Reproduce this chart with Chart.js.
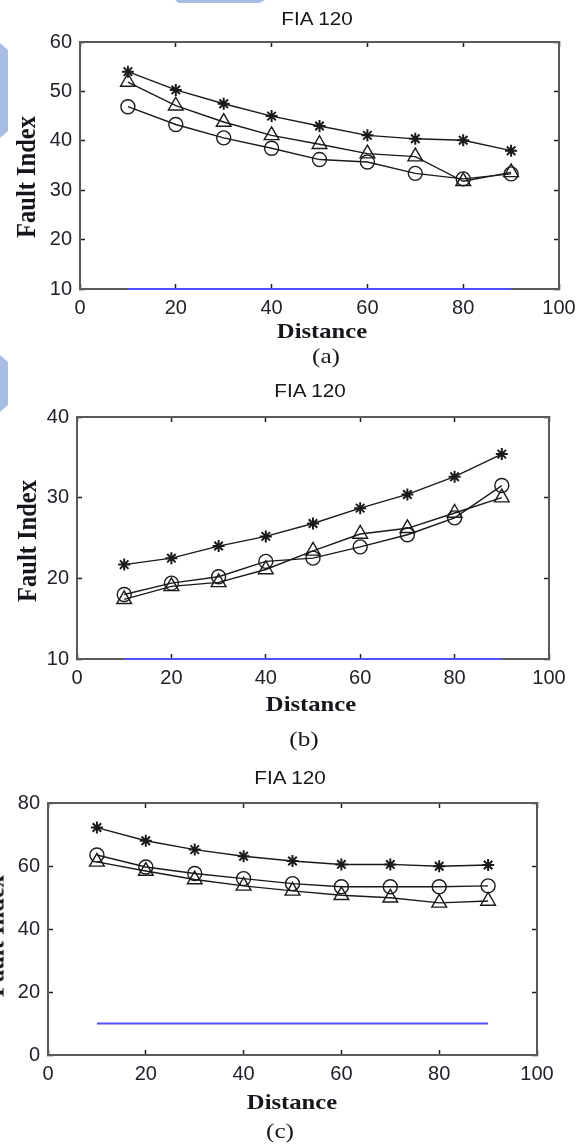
<!DOCTYPE html>
<html lang="en">
<head>
<meta charset="UTF-8">
<meta name="viewport" content="width=device-width, initial-scale=1.0">
<title>FIA 120</title>
<script src="https://cdn.jsdelivr.net/npm/chart.js"></script>
<style>
  body {
    margin: 0;
    background: #ffffff;
  }
  #page {
    position: relative;
    width: 587px;
    height: 1146px;
    overflow: hidden;
    background: #ffffff;
  }
  canvas {
    position: absolute;
    left: 0;
  }
  .txt {
    position: absolute;
    white-space: nowrap;
    line-height: 1;
    color: #16161c;
  }
  .title {
    font-family: 'Liberation Sans', Arial, sans-serif;
    font-size: 18px;
    transform: translate(-50%, -50%) scaleX(1.15);
  }
  .xlab {
    font-family: 'Liberation Serif', 'Times New Roman', serif;
    font-weight: bold;
    font-size: 22px;
    transform: translate(-50%, -50%) scaleX(1.12);
  }
  .ylab {
    font-family: 'Liberation Serif', 'Times New Roman', serif;
    font-weight: bold;
    font-size: 24.5px;
    transform: translate(-50%, -50%) rotate(-90deg) scaleY(1.15);
  }
  .cap {
    font-family: 'Liberation Serif', 'Times New Roman', serif;
    font-size: 22px;
    transform: translate(-50%, -50%) scaleX(1.15);
  }
  /* bits of the page layout showing at the edges */
  .deco {
    position: absolute;
    background: #a8bde4;
  }
</style>
</head>
<body>
<div id="page">
  <div class="deco" style="left:175px;top:0;width:90px;height:3px;clip-path:polygon(0 0,100% 0,94% 100%,4% 100%);"></div>
  <div class="deco" style="left:0;top:43px;width:8px;height:95px;clip-path:polygon(0 0,100% 7px,100% 88px,0 100%);"></div>
  <div class="deco" style="left:0;top:355px;width:8px;height:57px;clip-path:polygon(0 0,100% 7px,100% 50px,0 100%);"></div>

  <canvas id="chartA"></canvas>
  <canvas id="chartB"></canvas>
  <canvas id="chartC"></canvas>

  <div class="txt title" style="left:317px;top:19px;">FIA 120</div>
  <div class="txt ylab" style="left:26px;top:177px;">Fault Index</div>
  <div class="txt xlab" style="left:322px;top:331px;">Distance</div>
  <div class="txt cap" style="left:326px;top:356px;">(a)</div>

  <div class="txt title" style="left:310px;top:391px;">FIA 120</div>
  <div class="txt ylab" style="left:27px;top:541px;">Fault Index</div>
  <div class="txt xlab" style="left:311px;top:704px;">Distance</div>
  <div class="txt cap" style="left:304px;top:739px;">(b)</div>

  <div class="txt title" style="left:290px;top:778px;">FIA 120</div>
  <div class="txt ylab" style="left:-5px;top:936px;">Fault Index</div>
  <div class="txt xlab" style="left:292px;top:1102px;">Distance</div>
  <div class="txt cap" style="left:280px;top:1131px;">(c)</div>
</div>

<script>
// distance along the line (x) and the x tick marks shared by all panels
const distance = [10, 20, 30, 40, 50, 60, 70, 80, 90];
const xTicks = [0, 20, 40, 60, 80, 100];

// panel (a)
const aStar = [54.0, 50.3, 47.5, 45.0, 43.0, 41.1, 40.4, 40.1, 38.0];
const aTriangle = [51.9, 47.1, 43.8, 41.1, 39.3, 37.4, 36.8, 31.8, 33.6];
const aCircle = [46.9, 43.3, 40.6, 38.5, 36.2, 35.7, 33.4, 32.3, 33.3];
const aTicks = [10, 20, 30, 40, 50, 60];

// panel (b)
const bStar = [21.7, 22.5, 24.0, 25.2, 26.8, 28.7, 30.4, 32.6, 35.4];
const bTriangle = [17.4, 19.0, 19.5, 21.1, 23.4, 25.5, 26.2, 28.1, 30.0];
const bCircle = [18.0, 19.4, 20.2, 22.1, 22.5, 23.9, 25.4, 27.5, 31.5];
const bTicks = [10, 20, 30, 40];

// panel (c)
const cStar = [72.2, 68.0, 65.2, 63.1, 61.6, 60.5, 60.5, 59.9, 60.3];
const cTriangle = [61.3, 58.4, 55.7, 53.7, 52.1, 50.7, 49.9, 48.3, 48.9];
const cCircle = [63.5, 59.7, 57.6, 56.0, 54.4, 53.4, 53.4, 53.4, 53.7];
const cTicks = [0, 20, 40, 60, 80];

// threshold level (blue line)
const threshold = [10, 10, 10, 10, 10, 10, 10, 10, 10];

Chart.defaults.font.family = "'Liberation Sans', Arial, sans-serif";
Chart.defaults.font.size = 20;
Chart.defaults.color = '#22222c';

const W = 587;
const PAD_T = 20;   // space above the plot box
const AXIS_W = 40;  // left axis box
const AXIS_H = 40;  // bottom axis box

const pts = vals => distance.map((d, i) => ({ x: d, y: vals[i] }));
const useTicks = list => scale => { scale.ticks = list.map(v => ({ value: v })); };

function series(vals, style, r, bw) {
  return {
    data: pts(vals),
    xAxisID: 'x',
    yAxisID: 'y',
    borderColor: '#1a1a1a',
    borderWidth: 1.4,
    pointStyle: style,
    pointRadius: r,
    pointBorderColor: '#1a1a1a',
    pointBorderWidth: bw,
    pointBackgroundColor: 'rgba(0,0,0,0)',
    clip: false
  };
}

// inward tick marks + box edge, matlab style
const grid = {
  display: true,
  drawOnChartArea: false,
  drawTicks: true,
  tickLength: -5,
  tickColor: '#202020',
  tickWidth: 1.5
};
const border = { display: true, color: '#5a5a5a', width: 2 };

function panel(id, box, yTicks, star, tri, circ) {
  const cv = document.getElementById(id);
  const h = PAD_T + (box.bottom - box.top) + AXIS_H;
  cv.width = W;
  cv.height = h;
  cv.style.top = (box.top - PAD_T) + 'px';

  const yMin = yTicks[0], yMax = yTicks[yTicks.length - 1];

  return new Chart(cv, {
    type: 'line',
    data: {
      datasets: [
        series(star, 'star', 6, 2),
        series(tri, 'triangle', 8.5, 1.4),
        series(circ, 'circle', 7, 1.4),
        {
          data: pts(threshold),
          xAxisID: 'x',
          yAxisID: 'y',
          borderColor: '#5050ff',
          borderWidth: 2,
          pointRadius: 0,
          clip: false
        }
      ]
    },
    options: {
      responsive: false,
      animation: false,
      devicePixelRatio: 1,
      events: [],
      layout: {
        padding: { left: box.left - AXIS_W, right: W - box.right, top: PAD_T, bottom: 0 }
      },
      plugins: { legend: { display: false }, tooltip: { enabled: false } },
      scales: {
        x: {
          type: 'linear', position: 'bottom', min: 0, max: 100,
          afterBuildTicks: useTicks(xTicks),
          grid: grid, border: border,
          ticks: { padding: 12, maxRotation: 0, autoSkip: false },
          afterFit: s => { s.height = AXIS_H; s.paddingLeft = 0; s.paddingRight = 0; }
        },
        x2: {
          type: 'linear', axis: 'x', position: 'top', min: 0, max: 100,
          afterBuildTicks: useTicks(xTicks),
          grid: grid, border: border,
          ticks: { display: false },
          afterFit: s => { s.height = 0; s.paddingLeft = 0; s.paddingRight = 0; }
        },
        y: {
          type: 'linear', position: 'left', min: yMin, max: yMax,
          afterBuildTicks: useTicks(yTicks),
          grid: grid, border: border,
          ticks: { padding: 13 },
          afterFit: s => { s.width = AXIS_W; s.paddingTop = 0; s.paddingBottom = 0; }
        },
        y2: {
          type: 'linear', axis: 'y', position: 'right', min: yMin, max: yMax,
          afterBuildTicks: useTicks(yTicks),
          grid: grid, border: border,
          ticks: { display: false },
          afterFit: s => { s.width = 0; s.paddingTop = 0; s.paddingBottom = 0; }
        }
      }
    }
  });
}

panel('chartA', { left: 80, right: 559, top: 42, bottom: 289 }, aTicks, aStar, aTriangle, aCircle);
panel('chartB', { left: 77, right: 549, top: 417, bottom: 659 }, bTicks, bStar, bTriangle, bCircle);
panel('chartC', { left: 48, right: 537, top: 803, bottom: 1055 }, cTicks, cStar, cTriangle, cCircle);
</script>
</body>
</html>
